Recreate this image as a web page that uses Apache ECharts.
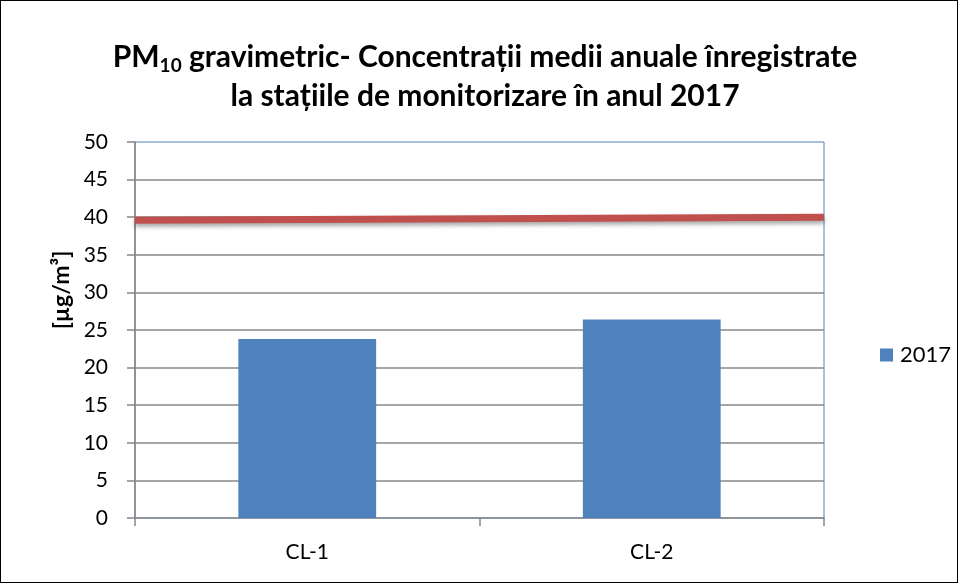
<!DOCTYPE html>
<html>
<head>
<meta charset="utf-8">
<script src="https://cdn.jsdelivr.net/npm/echarts@6/dist/echarts.min.js"></script>
<style>
  html, body { margin: 0; padding: 0; background: #fff; }
  #chart {
    width: 958px;
    height: 583px;
    box-sizing: border-box;
    border: 1px solid #000;
  }
</style>
</head>
<body>
<div id="chart"></div>
<script>
// date
var categories = ['CL-1', 'CL-2'];
var seriesName = '2017';
var values2017 = [23.8, 26.4];
// linia rosie (valoarea limita), capete stanga / dreapta
var limitX = ['start', 'end'];
var limitValues = [39.6, 40.0];
var yTicks = { min: 0, max: 50, interval: 5 };

var font = 'Lato, "Open Sans", sans-serif';
var chart = echarts.init(document.getElementById('chart'));

var option = {
  animation: false,
  title: {
    text: '{b|PM}{sub|10}{b| gravimetric- Concentrații medii anuale înregistrate}\n{b|la stațiile de monitorizare în anul 2017}',
    left: 479,
    textAlign: 'center',
    top: 32,
    textStyle: {
      rich: {
        b: {
          fontFamily: font,
          fontWeight: 'bold',
          fontSize: 30,
          color: '#000',
          lineHeight: 39
        },
        sub: {
          fontFamily: font,
          fontWeight: 'bold',
          fontSize: 19,
          color: '#000',
          lineHeight: 39,
          padding: [16, 0, 0, 0]
        }
      }
    }
  },
  legend: {
    data: [seriesName],
    left: 874,
    top: 338,
    itemWidth: 13,
    itemHeight: 13,
    icon: 'rect',
    textStyle: {
      fontFamily: font,
      fontSize: 22,
      color: '#000',
      padding: [0, 0, 0, 2]
    }
  },
  grid: {
    left: 134,
    right: 133,
    top: 141,
    bottom: 64,
    show: true,
    borderColor: '#4F81BD',
    borderWidth: 1
  },
  xAxis: [
    {
      type: 'category',
      data: categories,
      axisLine: { lineStyle: { color: '#868686', width: 1.5 } },
      axisTick: { show: true, length: 8, lineStyle: { color: '#868686', width: 1.5 } },
      axisLabel: {
        fontFamily: font,
        fontSize: 21,
        color: '#000',
        margin: 24
      }
    },
    {
      // axa ascunsa ca linia sa mearga pe toata latimea
      type: 'category',
      data: limitX,
      boundaryGap: false,
      show: false
    }
  ],
  yAxis: {
    type: 'value',
    min: yTicks.min,
    max: yTicks.max,
    interval: yTicks.interval,
    name: '[µg/m³]',
    nameLocation: 'middle',
    nameGap: 61,
    nameTextStyle: {
      fontFamily: font,
      fontWeight: 'bold',
      fontSize: 23,
      color: '#000',
      padding: [0, 0, 0, 80]
    },
    axisLine: { show: true, lineStyle: { color: '#868686', width: 1.5 } },
    axisTick: { show: true, length: 8, lineStyle: { color: '#868686', width: 1.5 } },
    axisLabel: {
      fontFamily: font,
      fontSize: 21,
      color: '#000',
      margin: 27
    },
    splitLine: {
      show: true,
      showMinLine: false,
      showMaxLine: false,
      lineStyle: { color: '#888', width: 1.5 }
    }
  },
  series: [
    {
      name: seriesName,
      type: 'bar',
      data: values2017,
      barWidth: '40%',
      itemStyle: { color: '#4F81BD' }
    },
    {
      name: 'limita',
      type: 'line',
      xAxisIndex: 1,
      data: limitValues,
      symbol: 'none',
      lineStyle: {
        color: '#C0504D',
        width: 7,
        cap: 'butt',
        shadowColor: 'rgba(0,0,0,0.35)',
        shadowBlur: 4,
        shadowOffsetY: 3
      },
      z: 5
    }
  ]
};

chart.setOption(option);
</script>
</body>
</html>
